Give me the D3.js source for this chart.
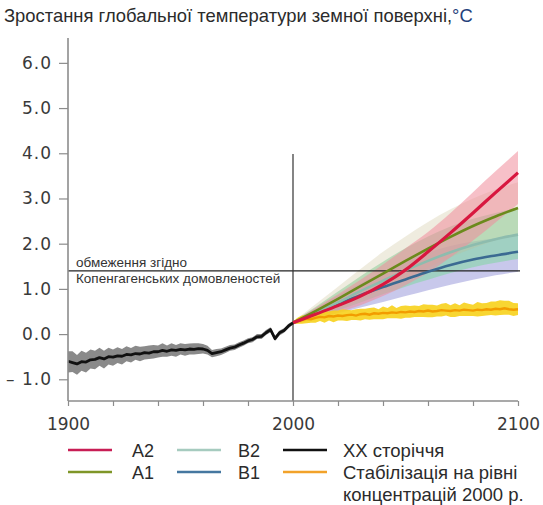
<!DOCTYPE html>
<html>
<head>
<meta charset="utf-8">
<script src="https://cdn.jsdelivr.net/npm/d3@7"></script>
<style>
  body { margin: 0; background: #fff; }
  svg { display: block; }
</style>
</head>
<body>
<svg id="chart" width="543" height="505"></svg>
<script>
// ---- text ----
const titleText = "Зростання глобальної температури земної поверхні,";
const titleUnit = "°C";
const limitLabel = ["обмеження згідно", "Копенгагенських домовленостей"];

// ---- axes ----
const yTicks = [-1, 0, 1, 2, 3, 4, 5, 6];
const yTickLabels = ["– 1.0", "0.0", "1.0", "2.0", "3.0", "4.0", "5.0", "6.0"];
const xTicks = [1900, 1920, 1940, 1960, 1980, 2000, 2020, 2040, 2060, 2080, 2100];
const xLabelYears = [1900, 2000, 2100];
const limitLevel = 1.4;
const markerYear = 2000;

// ---- 20th century observations (every 2 years, 1900–2000) ----
const histStart = 1900, histStep = 2;
const histValues = [
  -0.60, -0.63, -0.66, -0.61, -0.62, -0.57, -0.56, -0.52, -0.55, -0.50,
  -0.51, -0.48, -0.49, -0.45, -0.46, -0.43, -0.44, -0.41, -0.42, -0.39,
  -0.39, -0.36, -0.38, -0.35, -0.36, -0.34, -0.35, -0.33, -0.34, -0.32,
  -0.33, -0.36, -0.43, -0.41, -0.39, -0.35, -0.31, -0.29, -0.24, -0.20,
  -0.15, -0.12, -0.06, -0.05, 0.03, 0.10, -0.10, 0.03, 0.08, 0.18,
  0.25
];
const histUpper = [
  0.22, 0.25, 0.20, 0.24, 0.21, 0.23, 0.19, 0.22, 0.18, 0.20,
  0.17, 0.19, 0.16, 0.18, 0.15, 0.17, 0.16, 0.14, 0.17, 0.15,
  0.14, 0.16, 0.13, 0.15, 0.12, 0.14, 0.13, 0.12, 0.14, 0.12,
  0.11, 0.10, 0.08, 0.08, 0.07, 0.07, 0.07, 0.06, 0.06, 0.06,
  0.06, 0.05, 0.06, 0.05, 0.06, 0.05, 0.06, 0.05, 0.05, 0.05,
  0.04
];
const histLower = [
  0.25, 0.21, 0.24, 0.20, 0.23, 0.19, 0.22, 0.18, 0.21, 0.17,
  0.19, 0.16, 0.18, 0.15, 0.17, 0.14, 0.16, 0.15, 0.13, 0.15,
  0.13, 0.14, 0.12, 0.13, 0.14, 0.11, 0.13, 0.12, 0.11, 0.12,
  0.10, 0.09, 0.08, 0.08, 0.07, 0.07, 0.06, 0.06, 0.06, 0.06,
  0.05, 0.06, 0.05, 0.06, 0.05, 0.06, 0.05, 0.06, 0.05, 0.05,
  0.04
];

// ---- constant-concentration commitment (every 2 years, 2000–2100) ----
const stabStart = 2000, stabStep = 2;
const stabValues = [
  0.25, 0.29, 0.31, 0.34, 0.33, 0.36, 0.38, 0.37, 0.40, 0.39,
  0.41, 0.40, 0.42, 0.43, 0.41, 0.44, 0.45, 0.43, 0.46, 0.45,
  0.47, 0.46, 0.48, 0.47, 0.49, 0.48, 0.50, 0.49, 0.51, 0.50,
  0.52, 0.50, 0.51, 0.53, 0.52, 0.51, 0.53, 0.52, 0.54, 0.53,
  0.52, 0.54, 0.53, 0.55, 0.54, 0.56, 0.55, 0.57, 0.55, 0.54,
  0.55
];
const stabUpper = [
  0.03, 0.07, 0.10, 0.08, 0.12, 0.09, 0.11, 0.14, 0.10, 0.13,
  0.11, 0.15, 0.12, 0.10, 0.14, 0.12, 0.11, 0.15, 0.13, 0.10,
  0.14, 0.12, 0.16, 0.11, 0.13, 0.15, 0.12, 0.14, 0.11, 0.16,
  0.13, 0.15, 0.12, 0.14, 0.17, 0.13, 0.15, 0.12, 0.16, 0.14,
  0.13, 0.17, 0.15, 0.14, 0.18, 0.16, 0.20, 0.17, 0.19, 0.15,
  0.13
];
const stabLower = [
  0.03, 0.06, 0.08, 0.10, 0.08, 0.11, 0.09, 0.12, 0.10, 0.13,
  0.11, 0.10, 0.13, 0.12, 0.10, 0.14, 0.12, 0.11, 0.13, 0.12,
  0.14, 0.11, 0.13, 0.12, 0.15, 0.12, 0.14, 0.11, 0.13, 0.12,
  0.15, 0.13, 0.12, 0.14, 0.11, 0.13, 0.15, 0.12, 0.14, 0.13,
  0.12, 0.15, 0.13, 0.14, 0.12, 0.15, 0.13, 0.14, 0.12, 0.14,
  0.13
];

// ---- emission scenarios (decadal, 2000–2100) ----
const projYears = [2000, 2010, 2020, 2030, 2040, 2050, 2060, 2070, 2080, 2090, 2100];
const a2Mean = [0.25, 0.44, 0.63, 0.84, 1.10, 1.42, 1.82, 2.24, 2.68, 3.13, 3.57];
const a2Low  = [0.22, 0.34, 0.48, 0.64, 0.84, 1.08, 1.36, 1.70, 2.07, 2.47, 2.88];
const a2High = [0.28, 0.58, 0.88, 1.20, 1.54, 1.90, 2.26, 2.68, 3.14, 3.60, 4.05];
const a1Mean = [0.25, 0.51, 0.78, 1.06, 1.34, 1.62, 1.89, 2.15, 2.39, 2.60, 2.79];
const a1Low  = [0.22, 0.38, 0.56, 0.76, 0.98, 1.22, 1.47, 1.70, 1.90, 2.08, 2.22];
const a1High = [0.28, 0.66, 1.05, 1.44, 1.82, 2.16, 2.48, 2.76, 3.00, 3.20, 3.36];
const b2Mean = [0.25, 0.47, 0.70, 0.95, 1.18, 1.41, 1.62, 1.81, 1.97, 2.10, 2.20];
const b2Low  = [0.22, 0.36, 0.52, 0.70, 0.88, 1.05, 1.20, 1.35, 1.48, 1.58, 1.66];
const b2High = [0.28, 0.60, 0.94, 1.28, 1.60, 1.90, 2.16, 2.38, 2.55, 2.68, 2.80];
const b1Mean = [0.25, 0.45, 0.66, 0.86, 1.04, 1.21, 1.38, 1.53, 1.65, 1.74, 1.82];
const b1Low  = [0.22, 0.33, 0.46, 0.59, 0.71, 0.84, 0.97, 1.09, 1.20, 1.30, 1.38];
const b1High = [0.28, 0.56, 0.86, 1.12, 1.38, 1.60, 1.80, 1.95, 2.05, 2.12, 2.18];

// ---- legend ----
const legendNames  = ["A2", "A1", "B2", "B1", "XX сторіччя", "Стабілізація на рівні"];
const legendExtra  = "концентрацій 2000 р.";

// ---------------------------------------------------------------
const svg = d3.select("#chart");

const x = d3.scaleLinear().domain([1900, 2100]).range([68, 518]);
const y = d3.scaleLinear().domain([-1.48, 6.55]).range([401, 38]);

// title
const title = svg.append("text")
  .attr("x", 4).attr("y", 22)
  .style("font-family", "'Liberation Sans', Arial, sans-serif")
  .style("font-size", "18.4px")
  .attr("fill", "#2b2b2b");
title.append("tspan").text(titleText);
title.append("tspan").attr("fill", "#24407a").text(titleUnit);

const hist = histValues.map((v, i) => ({ t: histStart + i * histStep, v, lo: v - histLower[i], hi: v + histUpper[i] }));
const stab = stabValues.map((v, i) => ({ t: stabStart + i * stabStep, v, lo: v - stabLower[i], hi: v + stabUpper[i] }));
const scen = (mean, lo, hi) => projYears.map((t, i) => ({ t, v: mean[i], lo: lo[i], hi: hi[i] }));

const scenarios = [
  { key: "B1", rows: scen(b1Mean, b1Low, b1High), band: "#a4a4de", bandOp: 0.6, line: "#3b6a92", w: 2.6 },
  { key: "B2", rows: scen(b2Mean, b2Low, b2High), band: "#86d6a6", bandOp: 0.6, line: "#8dbcae", w: 2.6 },
  { key: "A1", rows: scen(a1Mean, a1Low, a1High), band: "#c4bc8c", bandOp: 0.28, line: "#6b8a1c", w: 2.6 },
  { key: "A2", rows: scen(a2Mean, a2Low, a2High), band: "#f08c9a", bandOp: 0.55, line: "#d8173f", w: 3.2 }
];

const area = d3.area().x(d => x(d.t)).y0(d => y(d.lo)).y1(d => y(d.hi));
const line = d3.line().x(d => x(d.t)).y(d => y(d.v));
const smoothArea = d3.area().curve(d3.curveMonotoneX).x(d => x(d.t)).y0(d => y(d.lo)).y1(d => y(d.hi));
const smoothLine = d3.line().curve(d3.curveMonotoneX).x(d => x(d.t)).y(d => y(d.v));

// scenario uncertainty bands
scenarios.forEach(s => {
  svg.append("path").datum(s.rows).attr("d", smoothArea)
    .attr("fill", s.band).attr("fill-opacity", s.bandOp);
});

// commitment band
svg.append("path").datum(stab).attr("d", area).attr("fill", "#f7d21c").attr("fill-opacity", 0.9);

// 20th century band
svg.append("path").datum(hist).attr("d", area).attr("fill", "#8a8a8a");

// Copenhagen limit line
svg.append("line")
  .attr("x1", x(1900)).attr("x2", x(2100) + 2)
  .attr("y1", y(limitLevel)).attr("y2", y(limitLevel))
  .attr("stroke", "#222").attr("stroke-width", 1.2);

// 2000 marker
svg.append("line")
  .attr("x1", x(markerYear)).attr("x2", x(markerYear))
  .attr("y1", 154).attr("y2", y.range()[0])
  .attr("stroke", "#333").attr("stroke-width", 1.2);

svg.append("path").datum(stab).attr("d", line)
  .attr("fill", "none").attr("stroke", "#f29c00").attr("stroke-width", 2.4);

// scenario lines
scenarios.forEach(s => {
  svg.append("path").datum(s.rows).attr("d", smoothLine)
    .attr("fill", "none").attr("stroke", s.line).attr("stroke-width", s.w)
    .attr("stroke-linejoin", "round");
});

svg.append("path").datum(hist).attr("d", line)
  .attr("fill", "none").attr("stroke", "#111").attr("stroke-width", 2.8)
  .attr("stroke-linejoin", "round");

// limit caption
const cap = svg.append("g")
  .style("font-family", "'Liberation Sans', Arial, sans-serif")
  .style("font-size", "13.5px").attr("fill", "#333");
cap.append("text").attr("x", 76).attr("y", y(limitLevel) - 4).text(limitLabel[0]);
cap.append("text").attr("x", 76).attr("y", y(limitLevel) + 12).text(limitLabel[1]);

// axes
const axisColor = "#8c8c8c";
const yAxis = svg.append("g").attr("transform", `translate(${x(1900)},0)`)
  .call(d3.axisLeft(y).tickValues(yTicks).tickSize(9).tickPadding(7)
    .tickFormat((d, i) => yTickLabels[i]));
const xAxis = svg.append("g").attr("transform", `translate(0,${y.range()[0]})`)
  .call(d3.axisBottom(x).tickValues(xTicks).tickSize(5).tickPadding(12)
    .tickFormat(d => xLabelYears.includes(d) ? String(d) : ""));

[yAxis, xAxis].forEach(g => {
  g.select(".domain").attr("stroke", axisColor).attr("stroke-width", 1.6);
  g.selectAll(".tick line").attr("stroke", axisColor).attr("stroke-width", 1.2);
  g.selectAll(".tick text")
    .style("font-family", "'DejaVu Sans', Verdana, sans-serif")
    .style("font-size", "17px").attr("fill", "#3a3a3a");
});
yAxis.selectAll(".tick text").style("letter-spacing", "1px");
yAxis.select(".domain").attr("d", `M0,${y.range()[1]}V${y.range()[0]}`);
xAxis.select(".domain").attr("d", `M${x.range()[0]},0H${x.range()[1]}`);

// legend
const legendItems = [
  { name: legendNames[0], color: "#c81d55", col: 0, row: 0 },
  { name: legendNames[1], color: "#7f9628", col: 0, row: 1 },
  { name: legendNames[2], color: "#a6cbbf", col: 1, row: 0 },
  { name: legendNames[3], color: "#4577a0", col: 1, row: 1 },
  { name: legendNames[4], color: "#111111", col: 2, row: 0 },
  { name: legendNames[5], color: "#f2a22a", col: 2, row: 1 }
];
const colX = [68, 177, 283];
const labelX = [132, 238, 343];
const rowY = [450, 472];
const lg = svg.append("g");
legendItems.forEach(d => {
  lg.append("line")
    .attr("x1", colX[d.col]).attr("x2", colX[d.col] + 44)
    .attr("y1", rowY[d.row]).attr("y2", rowY[d.row])
    .attr("stroke", d.color).attr("stroke-width", 2.6);
  lg.append("text")
    .attr("x", labelX[d.col]).attr("y", rowY[d.row] + 6.5)
    .style("font-family", "'Liberation Sans', Arial, sans-serif")
    .style("font-size", d.col < 2 ? "18px" : "18.5px")
    .attr("fill", "#2b2b2b")
    .text(d.name);
});
lg.append("text")
  .attr("x", labelX[2]).attr("y", rowY[1] + 28.5)
  .style("font-family", "'Liberation Sans', Arial, sans-serif")
  .style("font-size", "18.5px").attr("fill", "#2b2b2b")
  .text(legendExtra);
</script>
</body>
</html>
